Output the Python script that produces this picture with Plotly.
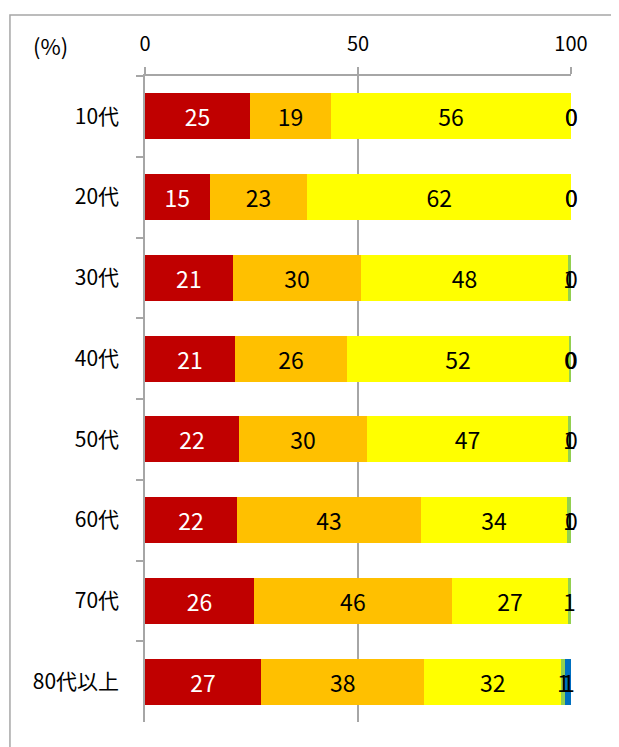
import plotly.graph_objects as go

categories = ["10代", "20代", "30代", "40代", "50代", "60代", "70代", "80代以上"]
red_vals = [24.6, 15.2, 20.6, 21.1, 22.1, 21.6, 25.6, 27.2]
orange_vals = [19.1, 22.9, 30.2, 26.3, 30.0, 43.2, 46.4, 38.4]
yellow_vals = [56.3, 61.9, 48.4, 52.2, 47.2, 34.3, 27.4, 32.1]
green_vals = [0.0, 0.0, 0.8, 0.4, 0.7, 0.9, 0.6, 0.9]
blue_vals = [0.0, 0.0, 0.0, 0.0, 0.0, 0.0, None, 1.4]
tick_vals = [0, 50, 100]

FONT = "Noto Sans CJK JP"
LABEL_SIZE = 23
main_series = [
    (red_vals, "#C00000", "white"),
    (orange_vals, "#FFC000", "black"),
    (yellow_vals, "#FFFF00", "black"),
]
small_series = [
    (green_vals, "#92D050"),
    (blue_vals, "#0070C0"),
]

fig = go.Figure()
for vals, color, tcolor in main_series:
    fig.add_trace(go.Bar(
        y=categories, x=vals, orientation="h",
        marker=dict(color=color, line=dict(width=0)),
        text=[f"{v:.0f}" for v in vals],
        textposition="inside", insidetextanchor="middle",
        textfont=dict(color=tcolor, size=LABEL_SIZE, family=FONT),
        cliponaxis=False, showlegend=False,
    ))
for vals, color in small_series:
    fig.add_trace(go.Bar(
        y=categories, x=[0 if v is None else v for v in vals], orientation="h",
        marker=dict(color=color, line=dict(width=0)),
        showlegend=False, textposition="none",
    ))

# labels for the thin segments, positioned from cumulative sums of the data
annotations = []
base = [r + o + y for r, o, y in zip(red_vals, orange_vals, yellow_vals)]
for idx, (vals, color) in enumerate(small_series):
    for i, v in enumerate(vals):
        if v is None:
            continue
        start = base[i] + (green_vals[i] if idx == 1 else 0)
        annotations.append(dict(
            x=min(round(start + v / 2, 4), 100), y=categories[i],
            xref="x", yref="y",
            text=f"{v:.0f}", showarrow=False,
            xanchor="center", yanchor="middle",
            font=dict(color="black", size=LABEL_SIZE, family=FONT),
        ))

annotations.append(dict(
    text="(%)", xref="paper", yref="paper", x=-0.223, y=1.048,
    xanchor="center", yanchor="middle", showarrow=False,
    font=dict(size=22, family=FONT),
))

fig.update_layout(
    barmode="stack", bargap=0.43,
    width=619, height=747,
    margin=dict(l=137, r=56, t=68, b=33),
    plot_bgcolor="white", paper_bgcolor="white",
    font=dict(family=FONT, size=20, color="black"),
    uniformtext=dict(minsize=LABEL_SIZE, mode="show"),
    xaxis=dict(
        side="top", range=[0, 100], tickvals=tick_vals,
        showgrid=True, gridcolor="#A6A6A6", gridwidth=1.5,
        showline=True, linecolor="#A6A6A6", linewidth=1.5,
        ticks="outside", ticklen=7, tickcolor="#A6A6A6", tickwidth=1.5,
        ticklabelstandoff=8, zeroline=False,
        tickfont=dict(size=20, family=FONT),
    ),
    yaxis=dict(
        autorange="reversed", tickson="boundaries",
        showline=True, linecolor="#A6A6A6", linewidth=1.5,
        ticks="outside", ticklen=7, tickcolor="#A6A6A6", tickwidth=1.5,
        ticklabelstandoff=20, showgrid=False,
        tickfont=dict(size=21, family=FONT),
    ),
    annotations=annotations,
    shapes=[dict(
        type="rect", xref="paper", yref="paper",
        x0=-0.317, x1=1.3, y0=-0.2, y1=1.0944,
        line=dict(color="#A6A6A6", width=1.5), layer="below",
    )],
)

fig.write_html("out.html")
